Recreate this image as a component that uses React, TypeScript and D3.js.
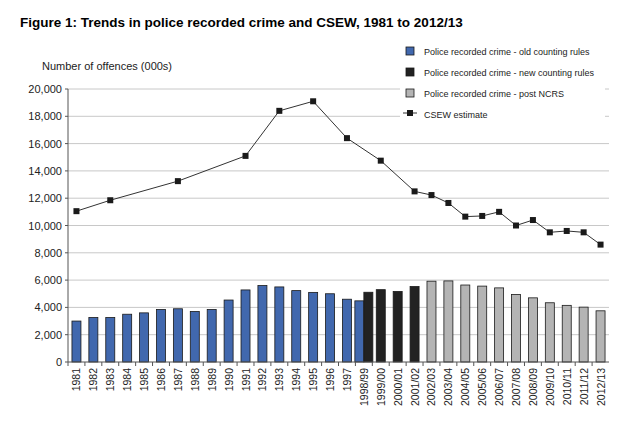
import React from 'react';
import * as d3 from 'd3';

const years = ['1981','1982','1983','1984','1985','1986','1987','1988','1989','1990','1991','1992','1993','1994','1995','1996','1997','1998/99','1999/00','2000/01','2001/02','2002/03','2003/04','2004/05','2005/06','2006/07','2007/08','2008/09','2009/10','2010/11','2011/12','2012/13'];

const oldRules: [string, number][] = [
  ['1981', 3000], ['1982', 3260], ['1983', 3260], ['1984', 3500], ['1985', 3600], ['1986', 3850],
  ['1987', 3900], ['1988', 3700], ['1989', 3850], ['1990', 4540], ['1991', 5280], ['1992', 5600],
  ['1993', 5500], ['1994', 5230], ['1995', 5100], ['1996', 5000], ['1997', 4600], ['1998/99', 4480],
];
const newRules: [string, number][] = [
  ['1998/99', 5110], ['1999/00', 5300], ['2000/01', 5170], ['2001/02', 5530],
];
const postNcrs: [string, number][] = [
  ['2002/03', 5920], ['2003/04', 5940], ['2004/05', 5640], ['2005/06', 5560], ['2006/07', 5430],
  ['2007/08', 4950], ['2008/09', 4700], ['2009/10', 4340], ['2010/11', 4150], ['2011/12', 4020], ['2012/13', 3750],
];
const csew: [string, number][] = [
  ['1981', 11050], ['1983', 11850], ['1987', 13250], ['1991', 15100], ['1993', 18400], ['1995', 19100],
  ['1997', 16400], ['1999/00', 14750], ['2001/02', 12500], ['2002/03', 12230], ['2003/04', 11650],
  ['2004/05', 10650], ['2005/06', 10700], ['2006/07', 11000], ['2007/08', 10000], ['2008/09', 10400],
  ['2009/10', 9500], ['2010/11', 9600], ['2011/12', 9500], ['2012/13', 8600],
];
const yTicks = [0, 2000, 4000, 6000, 8000, 10000, 12000, 14000, 16000, 18000, 20000];

const BLUE = '#4168ae';
const BLACK = '#222222';
const GREY = '#b4b4b4';
const FONT = 'Liberation Sans, Arial, sans-serif';

export default function App() {
  const W = 620, H = 423;
  const x = d3.scaleBand().domain(years).range([68, 609]);
  const y = d3.scaleLinear().domain([0, 20000]).range([362, 89]);
  const bw = 9;
  const cx = (c: string) => (x(c) || 0) + x.bandwidth() / 2;
  const fmt = d3.format(',');
  const line = d3.line<[string, number]>().x(d => cx(d[0])).y(d => y(d[1]));

  const bars = (data: [string, number][], color: string, offset: (c: string) => number) =>
    data.map(([c, v]) => (
      <rect key={color + c} x={cx(c) + offset(c)} y={y(v)} width={bw} height={y(0) - y(v)}
        fill={color} stroke="#1a1a1a" strokeWidth={0.8} />
    ));

  const legend = [
    { label: 'Police recorded crime - old counting rules', color: BLUE },
    { label: 'Police recorded crime - new counting rules', color: BLACK },
    { label: 'Police recorded crime - post NCRS', color: GREY },
  ];

  return (
    <svg width={W} height={H} style={{ position: 'absolute', left: 0, top: 0, background: '#fff' }} fontFamily={FONT}>
      <text x={20} y={27} fontSize={13.5} fontWeight="bold" fill="#000">Figure 1: Trends in police recorded crime and CSEW, 1981 to 2012/13</text>
      <text x={42} y={70} fontSize={11} fill="#222">Number of offences (000s)</text>
      {yTicks.map(t => (
        <g key={t}>
          {t > 0 && <line x1={68} x2={609} y1={y(t)} y2={y(t)} stroke="#c8c8c8" strokeWidth={1} />}
          <line x1={65} x2={68} y1={y(t)} y2={y(t)} stroke="#555" />
          <text x={62} y={y(t) + 4} fontSize={11} textAnchor="end" fill="#222">{fmt(t)}</text>
        </g>
      ))}
      {bars(oldRules, BLUE, c => (c === '1998/99' ? -bw : -bw / 2))}
      {bars(newRules, BLACK, c => (c === '1998/99' ? 0 : -bw / 2))}
      {bars(postNcrs, GREY, () => -bw / 2)}
      <line x1={68} x2={68} y1={y(0)} y2={y(20000)} stroke="#555" />
      <line x1={68} x2={609} y1={y(0)} y2={y(0)} stroke="#555" />
      {years.map(c => (
        <g key={c}>
          <line x1={x(c)} x2={x(c)} y1={362} y2={366} stroke="#555" />
          <text transform={`translate(${cx(c) + 4},368) rotate(-90)`} fontSize={10.5} textAnchor="end" fill="#222">{c}</text>
        </g>
      ))}
      <path d={line(csew) || ''} fill="none" stroke="#333" strokeWidth={1} />
      {csew.map(([c, v]) => (
        <rect key={'p' + c} x={cx(c) - 3} y={y(v) - 3} width={6} height={6} fill="#1a1a1a" />
      ))}
      <rect x={400} y={42} width={205} height={80} fill="#fff" />
      {legend.map((l, i) => (
        <g key={l.label}>
          <rect x={406} y={47 + i * 21} width={8} height={8} fill={l.color} stroke="#1a1a1a" strokeWidth={0.8} />
          <text x={424} y={55 + i * 21} fontSize={9} fill="#222">{l.label}</text>
        </g>
      ))}
      <line x1={403} x2={417} y1={113} y2={113} stroke="#333" />
      <rect x={407} y={110} width={6} height={6} fill="#1a1a1a" />
      <text x={424} y={118} fontSize={9} fill="#222">CSEW estimate</text>
    </svg>
  );
}
